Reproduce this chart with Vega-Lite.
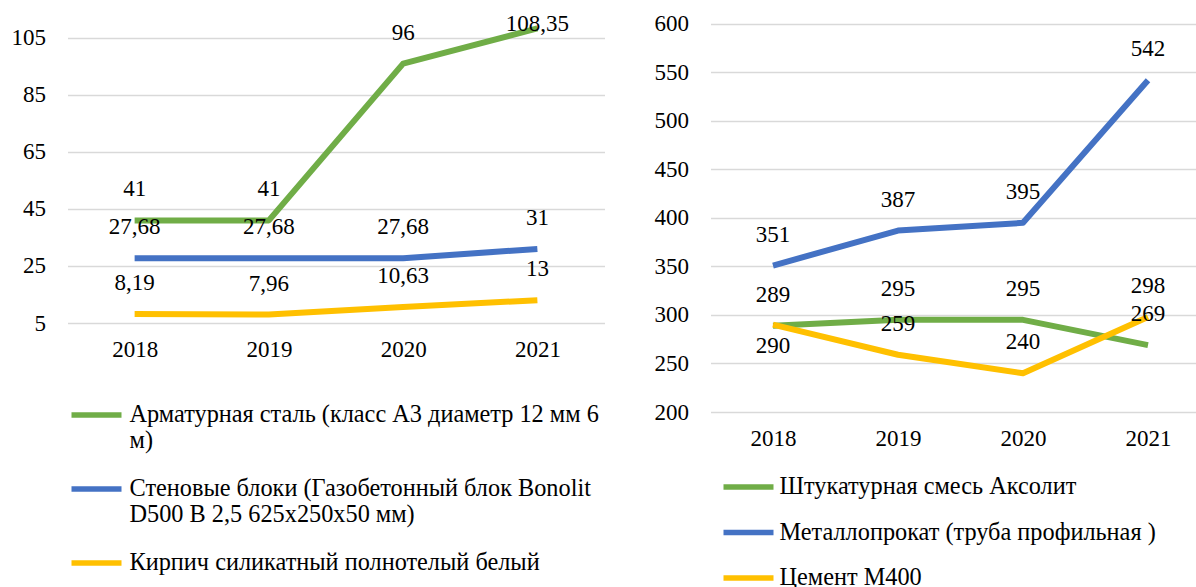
{
  "$schema": "https://vega.github.io/schema/vega-lite/v6.json",
  "padding": {"left": 10.5, "top": 10, "right": 0, "bottom": 0},
  "bounds": "flush",
  "spacing": 106,
  "datasets": {
    "left": [
      {"series": "Арматурная сталь (класс А3 диаметр 12 мм 6 м)", "year": 2018, "value": 41},
      {"series": "Арматурная сталь (класс А3 диаметр 12 мм 6 м)", "year": 2019, "value": 41},
      {"series": "Арматурная сталь (класс А3 диаметр 12 мм 6 м)", "year": 2020, "value": 96},
      {"series": "Арматурная сталь (класс А3 диаметр 12 мм 6 м)", "year": 2021, "value": 108.35},
      {"series": "Стеновые блоки (Газобетонный блок Bonolit D500 В 2,5 625x250x50 мм)", "year": 2018, "value": 27.68},
      {"series": "Стеновые блоки (Газобетонный блок Bonolit D500 В 2,5 625x250x50 мм)", "year": 2019, "value": 27.68},
      {"series": "Стеновые блоки (Газобетонный блок Bonolit D500 В 2,5 625x250x50 мм)", "year": 2020, "value": 27.68},
      {"series": "Стеновые блоки (Газобетонный блок Bonolit D500 В 2,5 625x250x50 мм)", "year": 2021, "value": 31},
      {"series": "Кирпич силикатный полнотелый белый", "year": 2018, "value": 8.19},
      {"series": "Кирпич силикатный полнотелый белый", "year": 2019, "value": 7.96},
      {"series": "Кирпич силикатный полнотелый белый", "year": 2020, "value": 10.63},
      {"series": "Кирпич силикатный полнотелый белый", "year": 2021, "value": 13}
    ],
    "right": [
      {"series": "Штукатурная смесь Аксолит", "year": 2018, "value": 289},
      {"series": "Штукатурная смесь Аксолит", "year": 2019, "value": 295},
      {"series": "Штукатурная смесь Аксолит", "year": 2020, "value": 295},
      {"series": "Штукатурная смесь Аксолит", "year": 2021, "value": 269},
      {"series": "Металлопрокат (труба профильная )", "year": 2018, "value": 351},
      {"series": "Металлопрокат (труба профильная )", "year": 2019, "value": 387},
      {"series": "Металлопрокат (труба профильная )", "year": 2020, "value": 395},
      {"series": "Металлопрокат (труба профильная )", "year": 2021, "value": 542},
      {"series": "Цемент М400", "year": 2018, "value": 290},
      {"series": "Цемент М400", "year": 2019, "value": 259},
      {"series": "Цемент М400", "year": 2020, "value": 240},
      {"series": "Цемент М400", "year": 2021, "value": 298}
    ]
  },
  "hconcat": [
    {
      "width": 537,
      "height": 313,
      "data": {"name": "left"},
      "transform": [{"calculate": "replace(toString(datum.value), '.', ',')", "as": "label"}],
      "encoding": {
        "x": {"field": "year", "type": "quantitative", "scale": {"domain": [2017.5, 2021.5], "nice": false, "zero": false},
              "axis": {"values": [2018, 2019, 2020, 2021], "format": "d", "grid": false, "orient": "bottom"}},
        "y": {"field": "value", "type": "quantitative", "scale": {"domain": [5, 114.82], "nice": false, "zero": false},
              "axis": {"values": [5, 25, 45, 65, 85, 105], "grid": true}}
      },
      "layer": [
        {
          "mark": {"type": "line", "strokeWidth": 6, "strokeCap": "butt", "strokeJoin": "round"},
          "encoding": {
            "color": {
              "field": "series", "type": "nominal",
              "scale": {
                "domain": ["Арматурная сталь (класс А3 диаметр 12 мм 6 м)", "Стеновые блоки (Газобетонный блок Bonolit D500 В 2,5 625x250x50 мм)", "Кирпич силикатный полнотелый белый"],
                "range": ["#70AD47", "#4472C4", "#FFC000"]
              },
              "legend": {
                "orient": "none", "legendX": 1, "legendY": 377, "rowPadding": 7, "labelOffset": 5,
                "labelExpr": "datum.label == 'Арматурная сталь (класс А3 диаметр 12 мм 6 м)' ? ['Арматурная сталь (класс А3 диаметр 12 мм 6', 'м)'] : datum.label == 'Стеновые блоки (Газобетонный блок Bonolit D500 В 2,5 625x250x50 мм)' ? ['Стеновые блоки (Газобетонный блок Bonolit', 'D500 В 2,5 625x250x50 мм)'] : datum.label"
              }
            }
          }
        },
        {
          "transform": [{"filter": "datum.value < 108"}],
          "mark": {"type": "text", "dy": -31, "fontSize": 23, "color": "#000000", "font": "Liberation Serif, Times New Roman, serif"},
          "encoding": {"text": {"field": "label"}}
        },
        {
          "transform": [{"filter": "datum.value >= 108"}],
          "mark": {"type": "text", "dy": -4, "fontSize": 23, "color": "#000000", "font": "Liberation Serif, Times New Roman, serif"},
          "encoding": {"text": {"field": "label"}}
        }
      ]
    },
    {
      "width": 486,
      "height": 402,
      "data": {"name": "right"},
      "encoding": {
        "x": {"field": "year", "type": "quantitative", "scale": {"domain": [2017.5, 2021.388], "nice": false, "zero": false},
              "axis": {"values": [2018, 2019, 2020, 2021], "format": "d", "grid": false, "orient": "bottom"}},
        "y": {"field": "value", "type": "quantitative", "scale": {"domain": [200, 614.43], "nice": false, "zero": false},
              "axis": {"values": [200, 250, 300, 350, 400, 450, 500, 550, 600], "grid": true}}
      },
      "layer": [
        {
          "mark": {"type": "line", "strokeWidth": 6, "strokeCap": "butt", "strokeJoin": "round"},
          "encoding": {
            "color": {
              "field": "series", "type": "nominal",
              "scale": {
                "domain": ["Штукатурная смесь Аксолит", "Металлопрокат (труба профильная )", "Цемент М400"],
                "range": ["#70AD47", "#4472C4", "#FFC000"]
              },
              "legend": {"orient": "none", "legendX": 10, "legendY": 449, "rowPadding": 4.5, "labelOffset": 3}
            }
          }
        },
        {
          "transform": [{"filter": "!(datum.series == 'Цемент М400' && datum.year == 2018)"}],
          "mark": {"type": "text", "dy": -31, "fontSize": 23, "color": "#000000", "font": "Liberation Serif, Times New Roman, serif"},
          "encoding": {"text": {"field": "value", "type": "quantitative", "format": "d"}}
        },
        {
          "transform": [{"filter": "datum.series == 'Цемент М400' && datum.year == 2018"}],
          "mark": {"type": "text", "dy": 21, "fontSize": 23, "color": "#000000", "font": "Liberation Serif, Times New Roman, serif"},
          "encoding": {"text": {"field": "value", "type": "quantitative", "format": "d"}}
        }
      ]
    }
  ],
  "resolve": {"scale": {"color": "independent", "x": "independent", "y": "independent"}, "legend": {"color": "independent"}},
  "config": {
    "font": "Liberation Serif, Times New Roman, serif",
    "view": {"stroke": null},
    "axis": {
      "title": null,
      "domain": false,
      "ticks": false,
      "labelFont": "Liberation Serif, Times New Roman, serif",
      "labelFontSize": 23,
      "labelColor": "#000000",
      "labelFlush": false,
      "labelOverlap": false,
      "gridColor": "#D9D9D9",
      "gridWidth": 1.5
    },
    "axisY": {"labelPadding": 22},
    "axisX": {"labelPadding": 15},
    "legend": {
      "title": null,
      "symbolType": "stroke",
      "symbolSize": 2500,
      "symbolStrokeWidth": 5.5,
      "labelFont": "Liberation Serif, Times New Roman, serif",
      "labelFontSize": 24.3,
      "labelColor": "#000000",
      "labelLimit": 700,
      "padding": 0
    },
    "text": {"font": "Liberation Serif, Times New Roman, serif"}
  }
}
